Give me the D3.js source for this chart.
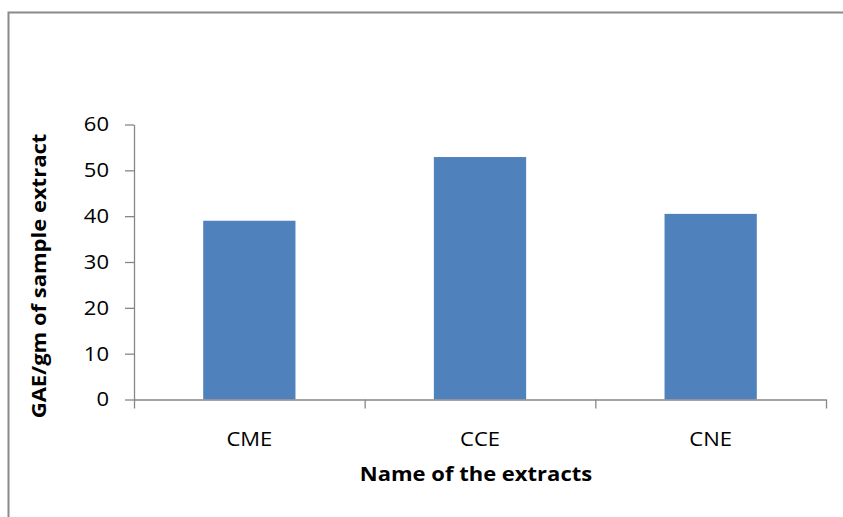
<!DOCTYPE html>
<html>
<head>
<meta charset="utf-8">
<script src="https://cdn.jsdelivr.net/npm/d3@7"></script>
<style>
  html, body { margin: 0; padding: 0; background: #fff; }
  svg { display: block; }
  text { font-family: "Open Sans", "Liberation Sans", sans-serif; fill: #000; }
</style>
</head>
<body>
<svg id="chart" width="843" height="517"></svg>
<script>
// Total phenolic content of the three extracts
const categories = ["CME", "CCE", "CNE"];
const values = [39.0, 52.9, 40.5];
const yTicks = [0, 10, 20, 30, 40, 50, 60];
const xTitle = "Name of the extracts";
const yTitle = "GAE/gm of sample extract";

const W = 843, H = 517;
const plot = { left: 134, right: 826, top: 124.5, bottom: 399.5 };
const axisColor = "#878787";
const barColor = "#4F81BD";
const stretch = 1.1;   // glyphs are drawn a little wider than the face's natural width
const fontSize = "20px";

const svg = d3.select("#chart");

svg.append("rect").attr("width", W).attr("height", H).attr("fill", "#fff");

// outer chart frame (runs off the right and bottom edges)
svg.append("rect")
  .attr("x", 8.5).attr("y", 12.5)
  .attr("width", W).attr("height", H)
  .attr("fill", "none")
  .attr("stroke", "#8a8a8a")
  .attr("stroke-width", 2);

const x = d3.scaleBand()
  .domain(categories)
  .range([plot.left, plot.right])
  .paddingInner(0.6)
  .paddingOuter(0.3);

const y = d3.scaleLinear()
  .domain([0, 60])
  .range([plot.bottom, plot.top]);

// bars
svg.append("g").selectAll("rect")
  .data(categories)
  .join("rect")
  .attr("x", d => x(d))
  .attr("width", x.bandwidth())
  .attr("y", (d, i) => y(values[i]))
  .attr("height", (d, i) => y(0) - y(values[i]))
  .attr("fill", barColor);

function styleAxis(g) {
  g.selectAll(".domain").attr("stroke", axisColor).attr("stroke-width", 1.3);
  g.selectAll(".tick line").attr("stroke", axisColor).attr("stroke-width", 1.3);
}

// widen a text element horizontally about its own anchor point
function widen(sel) {
  sel.each(function () {
    const t = d3.select(this);
    const tx = +t.attr("x") || 0;
    t.attr("transform", `translate(${tx},0) scale(${stretch},1) translate(${-tx},0)`);
  });
}

// y axis
const yAxis = svg.append("g")
  .attr("transform", `translate(${plot.left},0)`)
  .call(d3.axisLeft(y).tickValues(yTicks).tickSize(9).tickPadding(16).tickSizeOuter(0));
styleAxis(yAxis);
yAxis.selectAll(".tick text")
  .style("font-size", fontSize)
  .call(widen);

// x axis: tick marks sit on the category boundaries
const xEdge = d3.scaleLinear().domain([0, categories.length]).range([plot.left, plot.right]);
const xAxisTicks = svg.append("g")
  .attr("transform", `translate(0,${plot.bottom})`)
  .call(d3.axisBottom(xEdge).tickValues(d3.range(categories.length + 1)).tickSize(9).tickSizeOuter(0).tickFormat(""));
styleAxis(xAxisTicks);

// category labels
const xAxisLabels = svg.append("g")
  .attr("transform", `translate(0,${plot.bottom})`)
  .call(d3.axisBottom(x).tickSize(0).tickPadding(32));
xAxisLabels.select(".domain").remove();
xAxisLabels.selectAll(".tick text")
  .style("font-size", fontSize)
  .call(widen);

// axis titles
svg.append("text")
  .attr("transform", `translate(476,481) scale(${stretch},1)`)
  .attr("text-anchor", "middle")
  .style("font-size", fontSize)
  .style("font-weight", "bold")
  .text(xTitle);

svg.append("text")
  .attr("transform", `translate(46,276) rotate(-90) scale(${stretch},1)`)
  .attr("text-anchor", "middle")
  .style("font-size", fontSize)
  .style("font-weight", "bold")
  .text(yTitle);
</script>
</body>
</html>
